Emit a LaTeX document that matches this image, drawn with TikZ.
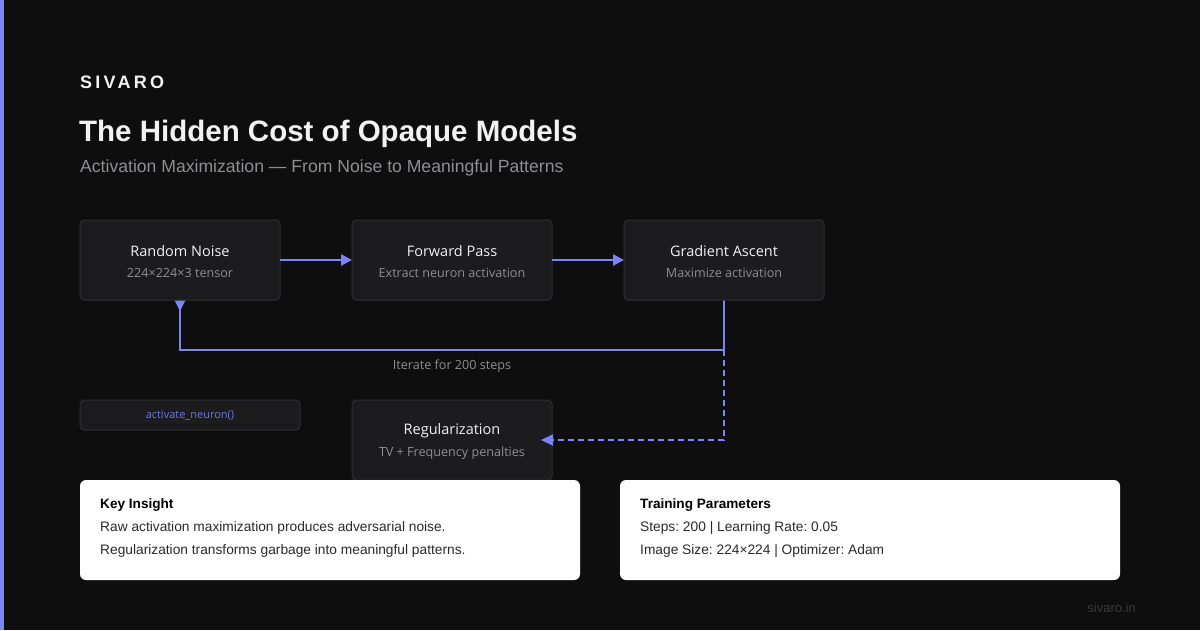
\documentclass[tikz,border=0pt]{standalone}
\usepackage{fontspec}
\setmainfont{Liberation Sans}
\newfontfamily\nodefont{Open Sans}
\newfontfamily\brandfont[LetterSpace=18]{Liberation Sans}
\usetikzlibrary{arrows.meta}
\definecolor{bg}{HTML}{0E0E0E}
\definecolor{accent}{HTML}{7C85F5}
\definecolor{boxfill}{HTML}{1C1C1E}
\definecolor{boxline}{HTML}{2E2E30}
\definecolor{subgray}{HTML}{8E8E93}
\definecolor{titlewhite}{HTML}{F2F2F2}
\definecolor{cardtext}{HTML}{2A2A2A}
\definecolor{footgray}{HTML}{3A3A3A}
\definecolor{codecol}{HTML}{6E75E0}
\tikzset{
  stepbox/.style={draw=boxline, line width=1pt, fill=boxfill, rounded corners=4pt},
  card/.style={fill=white, rounded corners=6pt},
  flow/.style={draw=accent, line width=2.6pt, -{Triangle[length=11pt,width=11pt]}},
  flowplain/.style={draw=accent, line width=2.6pt},
  dashflow/.style={draw=accent, line width=1.8pt, dash pattern=on 6pt off 4pt, -{Triangle[length=12pt,width=11pt]}},
  ntitle/.style={text=titlewhite, font=\nodefont\fontsize{14.5}{17}\selectfont, anchor=center},
  nsub/.style={text=subgray, font=\nodefont\fontsize{12.6}{15}\selectfont, anchor=center},
}
\begin{document}
\frenchspacing
\begin{tikzpicture}[x=1pt,y=-1pt]
\useasboundingbox (0,0) rectangle (1200,630);
\fill[bg] (0,0) rectangle (1200,630);
\fill[accent] (0,0) rectangle (4,630);

% header
\node[anchor=base west, inner sep=0, text=titlewhite, font=\brandfont\bfseries\fontsize{18}{20}\selectfont] (brand) at (80,88) {SIVARO};
\node[anchor=base west, inner sep=0, text=titlewhite, font=\bfseries\fontsize{29.5}{32}\selectfont] (title) at (79,141) {The Hidden Cost of Opaque Models};
\node[anchor=base west, inner sep=0, text=subgray, font=\fontsize{17.6}{20}\selectfont] (subtitle) at (80,172) {Activation Maximization — From Noise to Meaningful Patterns};

% feedback loop (drawn under the boxes)
\coordinate (rnB) at (180,300);
\coordinate (gaB) at (724,300);
\coordinate (loopR) at (724,350);
\coordinate (loopL) at (180,350);
\draw[flowplain] (gaB) -- (loopR) -- (loopL) -- (rnB);
\coordinate (tipA) at (174.5,300); \coordinate (tipB) at (185.5,300); \coordinate (tipC) at (180,311);
\fill[accent] (tipA) -- (tipB) -- (tipC) -- cycle;
\node[nsub] (iter) at (452,366) {Iterate for 200 steps};
\coordinate (dashC) at (724,440);
\coordinate (regR) at (541,440);

% boxes
\path[stepbox] (80,220) rectangle (280,300);
\coordinate (rnL) at (80,260); \coordinate (rnR) at (280,260);
\node[ntitle] (rnT) at (180,251) {Random Noise};
\node[nsub] (rnS) at (180,273) {224×224×3 tensor};

\path[stepbox] (352,220) rectangle (552,300);
\coordinate (fpL) at (352,260); \coordinate (fpR) at (552,260);
\node[ntitle] (fpT) at (452,251) {Forward Pass};
\node[nsub] (fpS) at (452,273) {Extract neuron activation};

\path[stepbox] (624,220) rectangle (824,300);
\coordinate (gaL) at (624,260);
\node[ntitle] (gaT) at (724,251) {Gradient Ascent};
\node[nsub] (gaS) at (724,273) {Maximize activation};

\path[stepbox] (352,400) rectangle (552,480);
\node[ntitle] (regT) at (452,431) {Regularization};
\node[nsub] (regS) at (452,453) {TV + Frequency penalties};

\path[stepbox] (80,400) rectangle (300,430);
\node[text=codecol, font=\nodefont\fontsize{11}{13}\selectfont] (code) at (190,415) {activate\_neuron()};

% connectors
\draw[flow] (rnR) -- (fpL);
\draw[flow] (fpR) -- (gaL);
\draw[dashflow] (loopR) -- (dashC) -- (regR);

% cards
\path[card] (80,480) rectangle (580,580);
\node[anchor=base west, inner sep=0, text=black, font=\bfseries\fontsize{13.6}{16}\selectfont] (kiT) at (100,508) {Key Insight};
\node[anchor=base west, inner sep=0, text=cardtext, font=\fontsize{13.75}{16}\selectfont] (ki1) at (100,531) {Raw activation maximization produces adversarial noise.};
\node[anchor=base west, inner sep=0, text=cardtext, font=\fontsize{13.75}{16}\selectfont] (ki2) at (100,554) {Regularization transforms garbage into meaningful patterns.};

\path[card] (620,480) rectangle (1120,580);
\node[anchor=base west, inner sep=0, text=black, font=\bfseries\fontsize{13.6}{16}\selectfont] (tpT) at (640,508) {Training Parameters};
\node[anchor=base west, inner sep=0, text=cardtext, font=\fontsize{13.75}{16}\selectfont] (tp1) at (640,531) {Steps: 200 | Learning Rate: 0.05};
\node[anchor=base west, inner sep=0, text=cardtext, font=\fontsize{13.75}{16}\selectfont] (tp2) at (640,554) {Image Size: 224×224 | Optimizer: Adam};

\node[anchor=base east, inner sep=0, text=footgray, font=\fontsize{13}{16}\selectfont] (foot) at (1136,612) {sivaro.in};
\end{tikzpicture}
\end{document}
